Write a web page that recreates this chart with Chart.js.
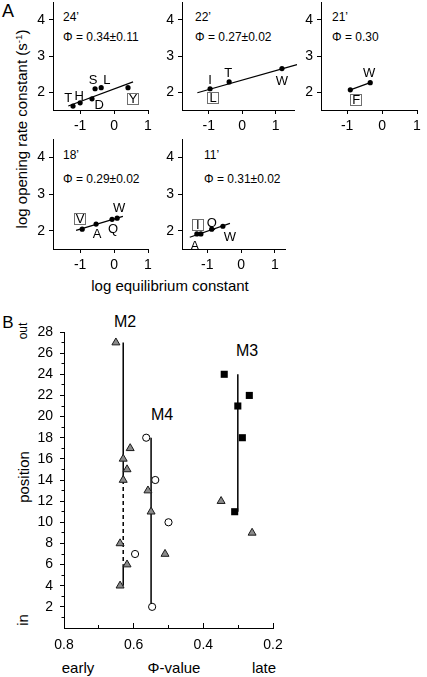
<!DOCTYPE html>
<html><head><meta charset="utf-8">
<script src="https://cdn.jsdelivr.net/npm/chart.js@4.4.1/dist/chart.umd.min.js"></script>
<style>
html,body{margin:0;padding:0;background:#fff;}
body{width:427px;height:677px;position:relative;overflow:hidden;font-family:"Liberation Sans",Arial,sans-serif;color:#000;}
canvas{position:absolute;}
.t{position:absolute;white-space:nowrap;line-height:1;transform:translate(-50%,-50%);}
.l{position:absolute;white-space:nowrap;line-height:1;transform:translate(0,-50%);}
.r{position:absolute;white-space:nowrap;line-height:1;transform:translate(-50%,-50%) rotate(-90deg);}
sup{font-size:65%;vertical-align:0.5em;line-height:0;}
</style></head><body>
<div class="t" style="left:8px;top:11px;font-size:18px">A</div>
<div class="t" style="left:8px;top:322px;font-size:17px">B</div>
<div class="r" style="left:21px;top:129px;font-size:15px">log opening rate constant (s<sup>-1</sup>)</div>
<div class="t" style="left:170px;top:285px;font-size:15px">log equilibrium constant</div>
<div class="l" style="left:63px;top:17px;font-size:12px">24’</div>
<div class="l" style="left:63px;top:37px;font-size:12px">Φ = 0.34±0.11</div>
<div class="l" style="left:195px;top:17px;font-size:12px">22’</div>
<div class="l" style="left:195px;top:37px;font-size:12px">Φ = 0.27±0.02</div>
<div class="l" style="left:332px;top:17px;font-size:12px">21’</div>
<div class="l" style="left:332px;top:37px;font-size:12px">Φ = 0.30</div>
<div class="l" style="left:63px;top:155px;font-size:12px">18’</div>
<div class="l" style="left:63px;top:179px;font-size:12px">Φ = 0.29±0.02</div>
<div class="l" style="left:204px;top:155px;font-size:12px">11’</div>
<div class="l" style="left:204px;top:179px;font-size:12px">Φ = 0.31±0.02</div>
<div class="t" style="left:125px;top:322px;font-size:16px">M2</div>
<div class="t" style="left:162px;top:415px;font-size:16px">M4</div>
<div class="t" style="left:247px;top:351px;font-size:16px">M3</div>
<div class="r" style="left:23px;top:331px;font-size:12px">out</div>
<div class="r" style="left:23px;top:477px;font-size:15px">position</div>
<div class="r" style="left:22px;top:620px;font-size:15px">in</div>
<div class="t" style="left:78px;top:667px;font-size:15px">early</div>
<div class="t" style="left:174px;top:667px;font-size:15px">Φ-value</div>
<div class="t" style="left:264px;top:667px;font-size:15px">late</div>
<script>
// ---------- DATA ----------
const aXTicks = [-1, 0, 1];
const aYTicks = [2, 3, 4];
// Panel 24'
const p24Keq  = [-1.21, -1.00, -0.65, -0.56, -0.38, 0.41];
const p24Rate = [1.61, 1.70, 1.81, 2.09, 2.12, 2.12];
const p24FitKeq  = [-1.35, 0.56];
const p24FitRate = [1.61, 2.28];
// Panel 22'
const p22Keq  = [-0.96, -0.39, 1.19];
const p22Rate = [2.09, 2.28, 2.65];
const p22FitKeq  = [-1.34, 1.64];
const p22FitRate = [1.98, 2.76];
// Panel 21'
const p21Keq  = [-0.91, -0.34];
const p21Rate = [2.06, 2.26];
const p21FitKeq  = [-0.91, -0.34];
const p21FitRate = [2.06, 2.26];
// Panel 18'
const p18Keq  = [-0.94, -0.53, -0.06, 0.09];
const p18Rate = [2.04, 2.18, 2.31, 2.34];
const p18FitKeq  = [-1.12, 0.26];
const p18FitRate = [2.01, 2.39];
// Panel 11'
const p11Keq  = [-1.31, -1.19, -0.87, -0.54];
const p11Rate = [1.91, 1.91, 2.04, 2.12];
const p11FitKeq  = [-1.52, -0.33];
const p11FitRate = [1.82, 2.20];

// Panel B
const bXTicks = [0.8, 0.6, 0.4, 0.2];
const bXMinorTicks = [0.7, 0.5, 0.3];
const bYTicks = [2, 4, 6, 8, 10, 12, 14, 16, 18, 20, 22, 24, 26, 28];
const bYMinorTicks = [1, 3, 5, 7, 9, 11, 13, 15, 17, 19, 21, 23, 25, 27];
const triPhi = [0.651, 0.610, 0.630, 0.619, 0.630, 0.639, 0.619, 0.639, 0.559, 0.550, 0.510, 0.349, 0.260];
const triPos = [27, 17, 16, 15, 14, 8, 6, 4, 13, 11, 7, 12, 9];
const cirPhi = [0.564, 0.538, 0.500, 0.596, 0.547];
const cirPos = [18, 14, 10, 7, 2];
const sqPhi = [0.340, 0.268, 0.301, 0.288, 0.310];
const sqPos = [24, 22, 21, 18, 11];
const m2LinePhi = 0.630;
const m2SolidTopPos = [27, 14];
const m2DashedPos = [14, 6];
const m2SolidBottomPos = [6, 4];
const m4LinePhi = 0.550;
const m4LinePos = [18, 2];
const m3LinePhi = 0.301;
const m3LinePos = [24, 11];

// ---------- HELPERS ----------
Chart.defaults.font.family = '"Liberation Sans", Arial, sans-serif';
Chart.defaults.color = '#000';
const zip = (xs, ys) => xs.map((x, i) => ({x, y: ys[i]}));
const zipX = (x, ys) => ys.map(y => ({x, y}));

function axis(o) {
  return {
    type: 'linear', position: o.pos, min: o.min, max: o.max, reverse: !!o.reverse, weight: o.weight || 0,
    border: {display: !o.noBorder, color: '#000', width: 1},
    grid: {display: true, drawOnChartArea: false, drawTicks: true, tickLength: o.tickLen, color: '#000', lineWidth: 1},
    ticks: {color: '#000', padding: o.pad || 0, font: {size: o.fontSize || 14}, autoSkip: false, maxRotation: 0, minRotation: 0,
            callback: (v) => o.fmt ? o.fmt(v) : ''},
    afterBuildTicks: s => { s.ticks = o.ticks.map(v => ({value: v})); },
    afterFit: s => {
      if (o.pos === 'left' || o.pos === 'right') s.width = o.size; else s.height = o.size;
      s.paddingLeft = s.paddingRight = s.paddingTop = s.paddingBottom = 0;
    }
  };
}

function makeChart(rect, m, datasets, scales, plugins) {
  const [l, t, r, b] = rect; const [ml, mt, mr, mb] = m;
  const cv = document.createElement('canvas');
  const w = r - l + ml + mr, h = b - t + mt + mb;
  cv.width = w; cv.height = h;
  cv.style.left = (l - ml) + 'px'; cv.style.top = (t - mt) + 'px';
  cv.style.width = w + 'px'; cv.style.height = h + 'px';
  document.body.appendChild(cv);
  return new Chart(cv, {
    type: 'scatter',
    data: {datasets},
    options: {
      responsive: false, animation: false, devicePixelRatio: 1,
      layout: {padding: {left: 0, top: mt, right: mr, bottom: 0}},
      plugins: {legend: {display: false}, tooltip: {enabled: false}},
      scales
    },
    plugins: plugins || []
  });
}

function labelPlugin(items) {
  return {
    id: 'ptLabels',
    afterDatasetsDraw(chart) {
      const ctx = chart.ctx, xs = chart.scales.x, ys = chart.scales.y;
      ctx.save();
      ctx.font = '13px "Liberation Sans", Arial, sans-serif';
      ctx.textAlign = 'center'; ctx.textBaseline = 'middle'; ctx.fillStyle = '#000';
      for (const it of items) {
        const px = xs.getPixelForValue(it.x), py = ys.getPixelForValue(it.y);
        ctx.fillText(it.t, px, py + 0.5);
        if (it.box) {
          ctx.strokeStyle = '#707070'; ctx.lineWidth = 1;
          ctx.strokeRect(Math.round(px - 6) + 0.5, Math.round(py - 6) + 0.5, 11, 11);
        }
      }
      ctx.restore();
    }
  };
}

// ---------- PANEL A ----------
const aPanels = [
  {rect: [53, 1, 148, 110], xmin: -1.8, xmax: 1.0, k: p24Keq, r: p24Rate, fk: p24FitKeq, fr: p24FitRate,
   labels: [{t:'T',x:-1.35,y:1.83},{t:'H',x:-1.03,y:1.89},{t:'S',x:-0.62,y:2.33},{t:'L',x:-0.21,y:2.33},{t:'D',x:-0.44,y:1.64},{t:'Y',x:0.56,y:1.81,box:true}]},
  {rect: [182, 1, 294, 110], xmin: -1.8, xmax: 1.55, k: p22Keq, r: p22Rate, fk: p22FitKeq, fr: p22FitRate,
   labels: [{t:'I',x:-0.96,y:2.34},{t:'T',x:-0.42,y:2.54},{t:'W',x:1.19,y:2.31},{t:'L',x:-0.87,y:1.83,box:true}]},
  {rect: [321, 1, 417, 110], xmin: -1.75, xmax: 1.0, k: p21Keq, r: p21Rate, fk: p21FitKeq, fr: p21FitRate,
   labels: [{t:'W',x:-0.37,y:2.54},{t:'F',x:-0.74,y:1.78,box:true}]},
  {rect: [53, 138, 148, 249], xmin: -1.8, xmax: 1.0, k: p18Keq, r: p18Rate, fk: p18FitKeq, fr: p18FitRate,
   labels: [{t:'V',x:-1.0,y:2.31,box:true},{t:'A',x:-0.5,y:1.91},{t:'Q',x:-0.03,y:2.04},{t:'W',x:0.15,y:2.61}]},
  {rect: [182, 138, 285, 249], xmin: -1.75, xmax: 1.3, k: p11Keq, r: p11Rate, fk: p11FitKeq, fr: p11FitRate,
   labels: [{t:'I',x:-1.28,y:2.15,box:true},{t:'Q',x:-0.87,y:2.21},{t:'A',x:-1.37,y:1.58},{t:'W',x:-0.33,y:1.82}]}
];

for (const p of aPanels) {
  makeChart(p.rect, [40, 3, 10, 28], [
    {data: zip(p.k, p.r), pointRadius: 2.6, pointBackgroundColor: '#000', pointBorderColor: '#000', pointBorderWidth: 0, clip: false},
    {data: zip(p.fk, p.fr), showLine: true, borderColor: '#000', borderWidth: 1.2, pointRadius: 0, clip: false}
  ], {
    x: axis({pos: 'bottom', min: p.xmin, max: p.xmax, ticks: aXTicks, tickLen: 4, pad: 4, size: 28, fmt: v => String(v)}),
    y: axis({pos: 'left', min: 1.5, max: 4.5, ticks: aYTicks, tickLen: 4, pad: 4, size: 40, fmt: v => String(v)})
  }, [labelPlugin(p.labels)]);
}

// ---------- PANEL B ----------
const vLine = (x, ys, dash) => ({data: zipX(x, ys), showLine: true, borderColor: '#000', borderWidth: 1.5,
  borderDash: dash || [], pointRadius: 0});
makeChart([64, 332, 273, 628], [64, 10, 25, 30], [
  {data: zip(triPhi, triPos), pointStyle: 'triangle', pointRadius: 4.6, pointBackgroundColor: '#8a8a8a', pointBorderColor: '#1a1a1a', pointBorderWidth: 1},
  {data: zip(cirPhi, cirPos), pointStyle: 'circle', pointRadius: 3.6, pointBackgroundColor: '#fff', pointBorderColor: '#000', pointBorderWidth: 1},
  {data: zip(sqPhi, sqPos), pointStyle: 'rect', pointRadius: 5, pointBackgroundColor: '#000', pointBorderColor: '#000', pointBorderWidth: 0},
  vLine(m2LinePhi, m2SolidTopPos),
  vLine(m2LinePhi, m2DashedPos, [4, 3]),
  vLine(m2LinePhi, m2SolidBottomPos),
  vLine(m4LinePhi, m4LinePos),
  vLine(m3LinePhi, m3LinePos)
], {
  x: axis({pos: 'bottom', min: 0.2, max: 0.8, reverse: true, weight: 1, ticks: bXTicks, tickLen: -5, pad: 14, size: 30, fmt: v => v.toFixed(1)}),
  xMinor: axis({pos: 'bottom', min: 0.2, max: 0.8, reverse: true, weight: 0, ticks: bXMinorTicks, tickLen: -3, pad: 0, size: 0, noBorder: true}),
  y: axis({pos: 'left', min: 0, max: 28, weight: 1, ticks: bYTicks, tickLen: 4, pad: 7, size: 64, fmt: v => String(v)}),
  yMinor: axis({pos: 'left', min: 0, max: 28, weight: 0, ticks: bYMinorTicks, tickLen: 2.5, pad: 0, size: 0, noBorder: true})
});
</script>
</body></html>
